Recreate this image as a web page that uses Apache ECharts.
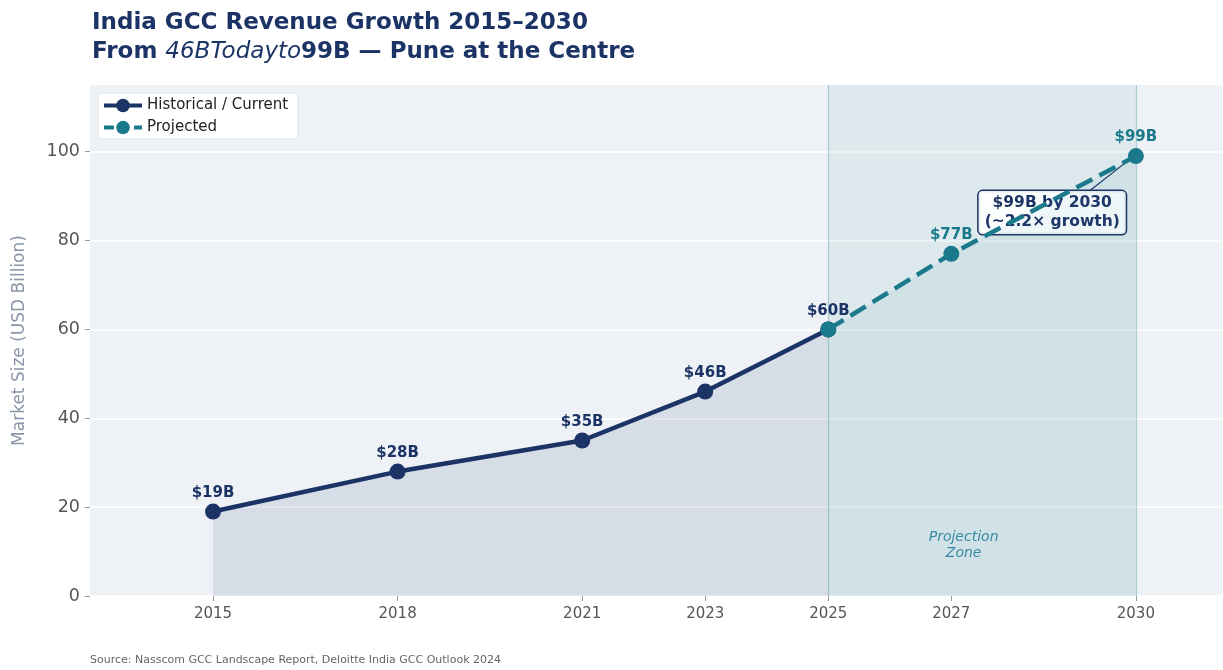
<!DOCTYPE html>
<html><head><meta charset="utf-8">
<script src="https://cdn.jsdelivr.net/npm/echarts@6/dist/echarts.min.js"></script>
<style>html,body{margin:0;padding:0;background:#fff}#c{width:1223px;height:670px}</style>
</head><body><div id="c"></div>
<script>
const histYears = [2015, 2018, 2021, 2023, 2025];
const histValues = [19, 28, 35, 46, 60];
const projYears = [2025, 2027, 2030];
const projValues = [60, 77, 99];
const tickYears = [2015, 2018, 2021, 2023, 2025, 2027, 2030];
const yTicks = [0, 20, 40, 60, 80, 100];
const zoneStart = 2025, zoneEnd = 2030;
const annotText = '$99B by 2030\n(~2.2× growth)';
const annotAt = [2028.64, 86.3];
const arrowFrom = [2029.25, 91.2], arrowTo = [2029.93, 98.6];
const zoneLabelAt = [2027.2, 11.3];

const NAVY = '#1c3366', TEAL = '#1a7a8c';
const hist = histYears.map((y, i) => [y, histValues[i]]);
const proj = projYears.map((y, i) => [y, projValues[i]]);
const chart = echarts.init(document.getElementById('c'));
const F = 'DejaVu Sans';
chart.setOption({
  animation: false,
  textStyle: { fontFamily: F },
  title: {
    left: 87, top: 4,
    text: '{b|India GCC Revenue Growth 2015–2030}\n{b|From }{i|46BTodayto}{b|99B — Pune at the Centre}',
    textStyle: {
      fontWeight: 'normal',
      rich: {
        b: { fontFamily: F, fontWeight: 'bold', fontSize: 23, color: NAVY, lineHeight: 29 },
        i: { fontFamily: F, fontStyle: 'italic', fontWeight: 'normal', fontSize: 23, color: NAVY, lineHeight: 29 }
      }
    }
  },
  graphic: [{
    type: 'text', left: 90, top: 655,
    style: { text: 'Source: Nasscom GCC Landscape Report, Deloitte India GCC Outlook 2024', fill: '#666', font: '11px DejaVu Sans' }
  }],
  legend: {
    left: 98, top: 93, orient: 'vertical', itemGap: 7,
    backgroundColor: '#fff', borderColor: '#dde2ea', borderWidth: 1, borderRadius: 3,
    padding: [5, 10, 4, 4], itemWidth: 38, itemHeight: 17,
    textStyle: { fontSize: 15, color: '#222', fontFamily: F },
    data: [
      { name: 'Historical / Current', lineStyle: { width: 4 } },
      { name: 'Projected', lineStyle: { width: 4, type: [10, 5] } }
    ]
  },
  grid: { left: 90, right: 1, top: 85, bottom: 74, show: true, backgroundColor: '#eef2f6', borderWidth: 0 },
  xAxis: {
    type: 'value', min: 2013, max: 2031.4,
    axisLine: { show: false },
    splitLine: { show: false },
    axisTick: { show: true, length: 5, lineStyle: { color: '#999' }, customValues: tickYears },
    axisLabel: { customValues: tickYears, color: '#555', fontSize: 15, margin: 11, formatter: v => String(v) }
  },
  yAxis: {
    type: 'value', min: 0, max: 115, interval: 20,
    name: 'Market Size (USD Billion)', nameLocation: 'middle', nameGap: 62,
    nameTextStyle: { color: '#8a95a8', fontSize: 17 },
    axisLine: { show: false },
    axisTick: { show: true, length: 5, lineStyle: { color: '#999' }, customValues: yTicks },
    axisLabel: { customValues: yTicks, color: '#555', fontSize: 17.5, margin: 10 },
    splitLine: { show: true, lineStyle: { color: '#ffffff', width: 1.5 } }
  },
  series: [
    {
      name: 'Historical / Current', type: 'line', data: hist, z: 3,
      lineStyle: { color: NAVY, width: 4.5 }, itemStyle: { color: NAVY },
      symbol: 'circle', symbolSize: 16,
      areaStyle: { color: 'rgba(28,51,102,0.15)' },
      label: { show: true, position: 'top', distance: 3, formatter: p => '$' + p.value[1] + 'B', color: NAVY, fontWeight: 'bold', fontSize: 15 },
      markArea: {
        silent: true, z: 1,
        itemStyle: { color: 'rgba(26,122,140,0.08)' },
        data: [[{ xAxis: zoneStart }, { xAxis: zoneEnd }]]
      },
      markLine: {
        silent: true, z: 1, symbol: 'none', label: { show: false },
        lineStyle: { color: 'rgba(26,122,140,0.3)', width: 1.2, type: 'solid' },
        data: [{ xAxis: zoneStart }, { xAxis: zoneEnd }]
      },
      markPoint: {
        silent: true, z: 2, symbol: 'circle', symbolSize: 0,
        data: [
          { coord: annotAt, label: { show: true, position: 'inside', formatter: annotText, color: NAVY, fontWeight: 'bold', fontSize: 15.5, lineHeight: 19, align: 'center',
              backgroundColor: 'rgba(255,255,255,0.92)', borderColor: NAVY, borderWidth: 1.5, borderRadius: 4, padding: [3, 6, 2, 6] } },
          { coord: zoneLabelAt, label: { show: true, position: 'inside', formatter: 'Projection\nZone', color: '#3a8aa6', fontStyle: 'italic', fontSize: 14, lineHeight: 16 } }
        ]
      }
    },
    {
      name: 'Projected', type: 'line', data: proj, z: 4,
      lineStyle: { color: TEAL, width: 4.5, type: [18, 8] }, itemStyle: { color: TEAL },
      symbol: 'circle', symbolSize: 16,
      areaStyle: { color: 'rgba(26,122,140,0.09)' },
      label: { show: true, position: 'top', distance: 3, formatter: p => p.value[0] === zoneStart ? '' : '$' + p.value[1] + 'B', color: TEAL, fontWeight: 'bold', fontSize: 15 },
      markLine: {
        silent: true, z: 3, symbol: 'none', label: { show: false },
        lineStyle: { color: NAVY, width: 1.2, type: 'solid' },
        data: [[{ coord: arrowFrom }, { coord: arrowTo }]]
      }
    }
  ]
});
</script></body></html>
